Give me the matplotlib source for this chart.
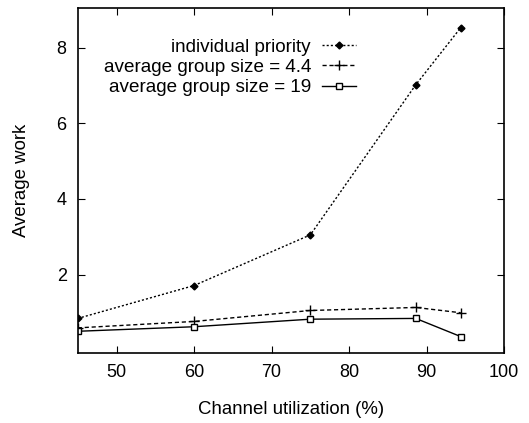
import matplotlib
matplotlib.use("Agg")
import matplotlib.pyplot as plt

x_util = [45, 60, 75, 88.6, 94.4]
individual = [0.84, 1.71, 3.05, 7.02, 8.53]
group_4_4 = [0.59, 0.76, 1.05, 1.13, 0.99]
group_19 = [0.50, 0.62, 0.82, 0.84, 0.36]
labels = ["individual priority", "average group size = 4.4", "average group size = 19"]
xticks = [50, 60, 70, 80, 90, 100]
yticks = [2, 4, 6, 8]

plt.rcParams['font.family'] = ['Liberation Sans', 'DejaVu Sans']
fig = plt.figure(figsize=(5.29, 4.23), dpi=100)
ax = fig.add_axes([0.147, 0.165, 0.806, 0.816])

ax.plot(x_util, individual, linestyle=(0, (1.5, 1.5)), color='black', lw=1,
        marker='D', markersize=3.5, label=labels[0])
ax.plot(x_util, group_4_4, linestyle=(0, (3, 2)), color='black', lw=1,
        marker='+', markersize=7, markeredgewidth=1, label=labels[1])
ax.plot(x_util, group_19, linestyle='-', color='black', lw=1,
        marker='s', markersize=5, markerfacecolor='white', markeredgewidth=1, label=labels[2])

ax.set_xlim(45, 100)
ax.set_ylim(-0.08, 9.05)
ax.set_xticks(xticks)
ax.set_yticks(yticks)
ax.tick_params(direction='in', top=True, right=True, length=5, labelsize=13, pad=8)
for s in ax.spines.values():
    s.set_linewidth(1.2)

ax.set_xlabel("Channel utilization (%)", fontsize=13.4, labelpad=14)
ax.set_ylabel("Average work", fontsize=13.4, labelpad=19)

leg = ax.legend(loc='upper left', bbox_to_anchor=(0.0, 0.97), frameon=False, markerfirst=False,
                fontsize=13.6, handlelength=1.8, labelspacing=0.17, handletextpad=0.6, borderaxespad=0)
for t in leg.get_texts():
    t.set_ha('right')
leg._legend_box.align = "right"
fig.canvas.draw()
bb = leg.get_window_extent()
t0 = leg.get_texts()[0].get_window_extent()
target_right = ax.transData.transform((81.9, 0))[0]
target_row_y = 423 - 47
dx = (target_right - bb.x1) / ax.bbox.width
dy = (target_row_y - (t0.y0 + t0.y1) / 2) / ax.bbox.height
leg.set_bbox_to_anchor((dx, 0.97 + dy), transform=ax.transAxes)

fig.savefig("out.png", dpi=100)
